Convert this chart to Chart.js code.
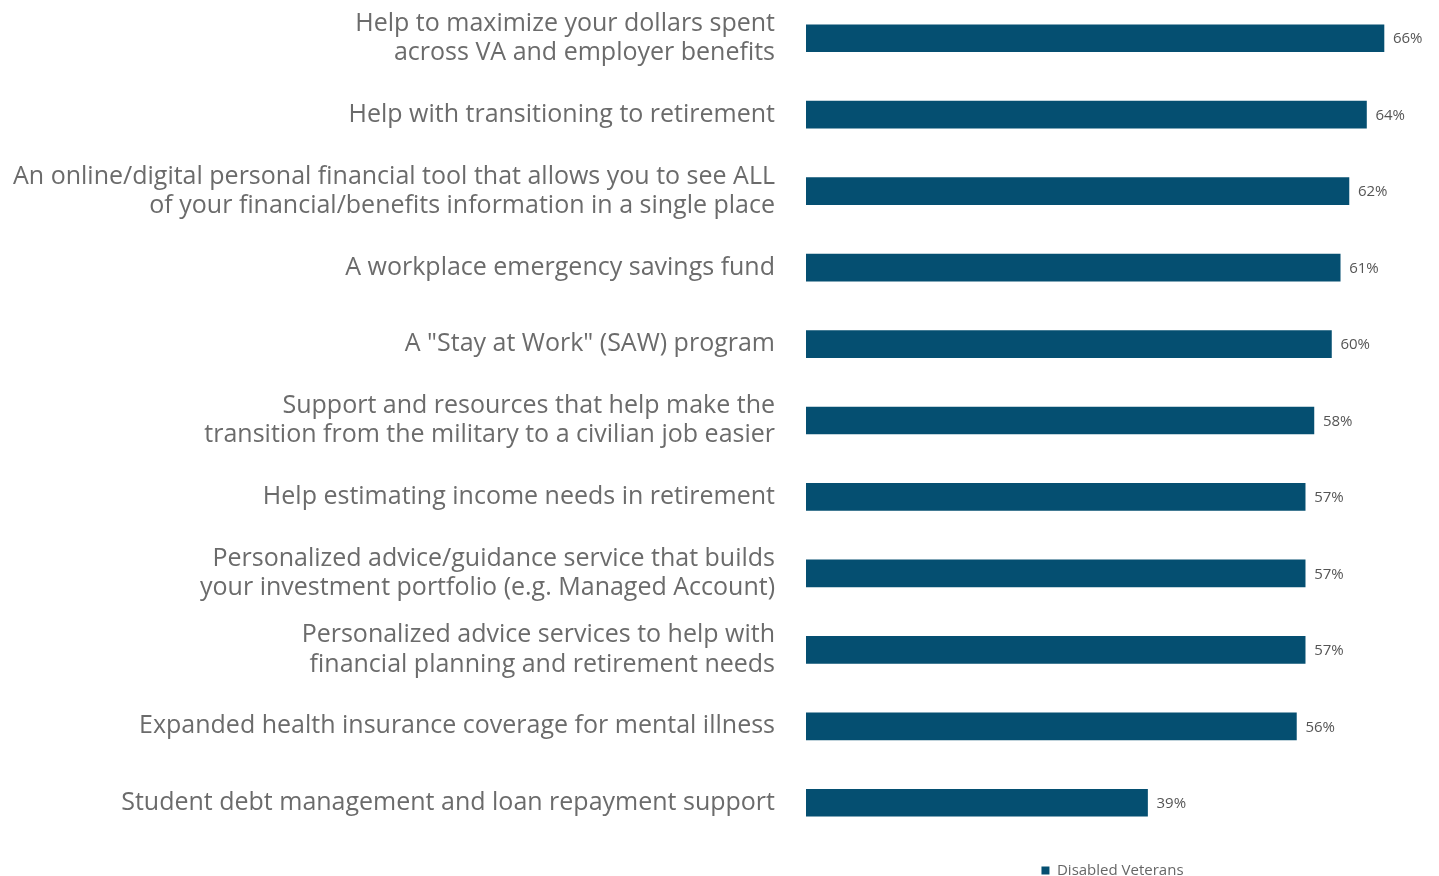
<!DOCTYPE html>
<html>
<head>
<meta charset="utf-8">
<script src="https://cdn.jsdelivr.net/npm/chart.js@4/dist/chart.umd.min.js"></script>
<style>
  html, body { margin: 0; padding: 0; background: #fff; }
  #wrap { width: 1439px; height: 876px; }
</style>
</head>
<body>
<div id="wrap"><canvas id="chart" width="1439" height="876"></canvas></div>
<script>
const categories = [
    ['Help to maximize your dollars spent', 'across VA and employer benefits'],
    'Help with transitioning to retirement',
    ['An online/digital personal financial tool that allows you to see ALL', 'of your financial/benefits information in a single place'],
    'A workplace emergency savings fund',
    'A "Stay at Work" (SAW) program',
    ['Support and resources that help make the', 'transition from the military to a civilian job easier'],
    'Help estimating income needs in retirement',
    ['Personalized advice/guidance service that builds', 'your investment portfolio (e.g. Managed Account)'],
    ['Personalized advice services to help with', 'financial planning and retirement needs'],
    'Expanded health insurance coverage for mental illness',
    'Student debt management and loan repayment support'
];
const disabledVeterans = [66, 64, 62, 61, 60, 58, 57, 57, 57, 56, 39];

const fontFamily = '"Open Sans", sans-serif';

// value labels at the end of each bar
const valueLabels = {
    id: 'valueLabels',
    afterDatasetsDraw(chart) {
        const ctx = chart.ctx;
        const meta = chart.getDatasetMeta(0);
        ctx.save();
        ctx.font = '15px ' + fontFamily;
        ctx.fillStyle = '#555555';
        ctx.textAlign = 'left';
        ctx.textBaseline = 'middle';
        meta.data.forEach((bar, i) => {
            ctx.fillText(disabledVeterans[i] + '%', bar.x + 9, bar.y + 1);
        });
        ctx.restore();
    }
};

const chart = new Chart(document.getElementById('chart').getContext('2d'), {
    type: 'bar',
    data: {
        labels: categories,
        datasets: [{
            label: 'Disabled Veterans',
            data: disabledVeterans,
            backgroundColor: '#054f71',
            barThickness: 27
        }]
    },
    options: {
        indexAxis: 'y',
        responsive: false,
        animation: false,
        layout: { padding: { top: 0, right: 20, bottom: -12, left: 0 } },
        scales: {
            x: {
                display: false,
                min: 0,
                max: 70
            },
            y: {
                grid: { display: false, drawTicks: false },
                border: { display: false },
                ticks: {
                    padding: 31,
                    color: '#6b6b6b',
                    font: { family: fontFamily, size: 25, lineHeight: 1.17 }
                },
                afterFit(scale) {
                    scale.width = 806;
                    scale.paddingTop = 0;
                    scale.paddingBottom = 0;
                }
            }
        },
        plugins: {
            legend: {
                position: 'bottom',
                fullSize: false,
                labels: {
                    boxWidth: 8,
                    boxHeight: 8,
                    padding: 22,
                    color: '#666666',
                    font: { family: fontFamily, size: 15 }
                }
            },
            tooltip: { enabled: false }
        }
    },
    plugins: [valueLabels]
});
</script>
</body>
</html>
